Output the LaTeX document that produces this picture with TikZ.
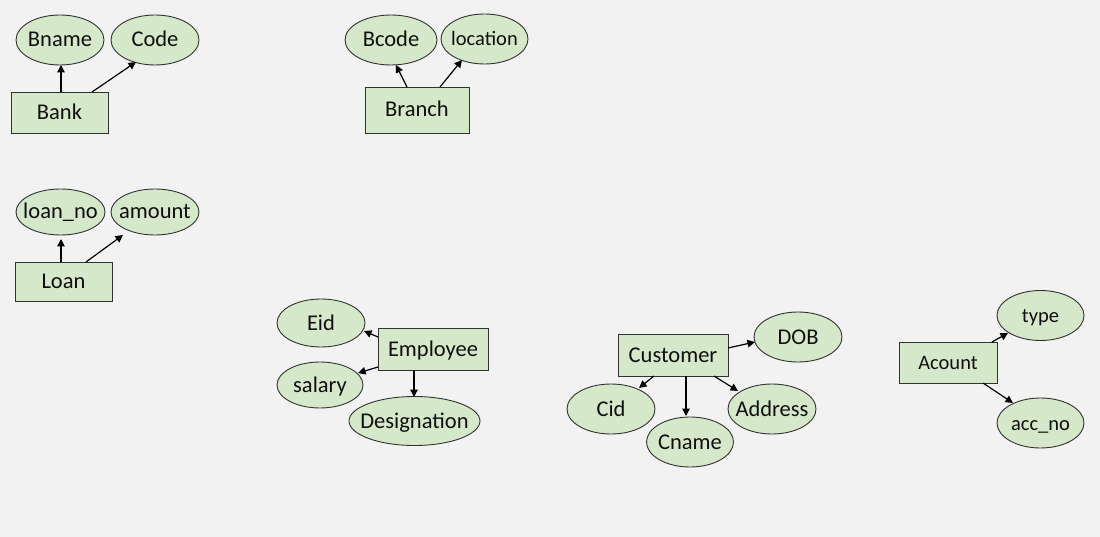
\documentclass[tikz,border=0pt]{standalone}
\usepackage{fontspec}
\setmainfont{Carlito}
\usetikzlibrary{shapes.geometric,arrows.meta}
\definecolor{bgc}{RGB}{242,242,242}
\definecolor{fillc}{RGB}{214,232,202}
\definecolor{linec}{RGB}{50,50,50}
\definecolor{txtc}{RGB}{15,15,15}
\newcommand\zw[1]{\makebox[0pt]{#1}}
\tikzset{
  attr/.style={ellipse, draw=linec, fill=fillc, line width=0.9pt, inner sep=0pt, text=txtc, text height=15pt, text depth=1pt, font=\fontsize{22.5}{24}\selectfont},
  ent/.style={rectangle, draw=linec, fill=fillc, line width=0.9pt, inner sep=0pt, text=txtc, text height=15pt, text depth=1pt, font=\fontsize{22.5}{24}\selectfont},
  small/.style={font=\fontsize{20.5}{22}\selectfont},
  arr/.style={-{Triangle[length=7.5pt,width=7.5pt]}, line width=1.2pt, draw=black}
}
\begin{document}
\begin{tikzpicture}[x=1pt,y=-1pt]
\fill[bgc] (0,0) rectangle (1100,537);
\useasboundingbox (0,0) rectangle (1100,537);
% Bank
\node[attr, minimum width=88pt, minimum height=50pt] (bname) at (60,40) {\zw{Bname}};
\node[attr, minimum width=88pt, minimum height=50pt] (code) at (155,40) {\zw{Code}};
\node[ent, minimum width=97pt, minimum height=41pt] (bank) at (59.5,112.5) {Bank};
\draw[arr] ([shift={(1.5,-20.5)}]bank.center) -- ([shift={(1,25)}]bname.center);
\draw[arr] ([shift={(32.5,-20.5)}]bank.center) -- ([shift={(-19,22)}]code.center);
% Branch
\node[attr, minimum width=92pt, minimum height=50pt] (bcode) at (391,40) {\zw{Bcode}};
\node[attr, small, minimum width=87pt, minimum height=50pt] (location) at (484.5,39) {\zw{location}};
\node[ent, minimum width=104pt, minimum height=46pt] (branch) at (417,110) {Branch};
\draw[arr] ([shift={(-10,-23)}]branch.center) -- ([shift={(5,25)}]bcode.center);
\draw[arr] ([shift={(23,-23)}]branch.center) -- ([shift={(-22.5,21)}]location.center);
% Loan
\node[attr, minimum width=89pt, minimum height=46pt] (loanno) at (60.5,212) {\zw{loan\_no}};
\node[attr, minimum width=88pt, minimum height=46pt] (amount) at (155,212) {\zw{amount}};
\node[ent, minimum width=97pt, minimum height=39pt] (loan) at (63.5,281.5) {Loan};
\draw[arr] ([shift={(-2.5,-19.5)}]loan.center) -- ([shift={(0.5,27)}]loanno.center);
\draw[arr] ([shift={(22.5,-19.5)}]loan.center) -- ([shift={(-32,23)}]amount.center);
% Employee
\node[attr, minimum width=88pt, minimum height=48pt] (eid) at (321,323) {\zw{Eid}};
\node[attr, minimum width=86pt, minimum height=46pt] (salary) at (320,385) {\zw{salary}};
\node[attr, minimum width=131pt, minimum height=49pt] (designation) at (414.5,421) {\zw{Designation}};
\node[ent, minimum width=110pt, minimum height=42pt] (employee) at (433,349) {Employee};
\draw[arr] ([shift={(-55,-12)}]employee.center) -- ([shift={(43,8)}]eid.center);
\draw[arr] ([shift={(-55,18)}]employee.center) -- ([shift={(38,-12)}]salary.center);
\draw[arr] ([shift={(-19,21)}]employee.center) -- ([shift={(-0.5,-24)}]designation.center);
% Customer
\node[ent, minimum width=110pt, minimum height=42pt] (customer) at (673,355) {Customer};
\node[attr, minimum width=88pt, minimum height=50pt] (dob) at (798,337) {\zw{DOB}};
\node[attr, minimum width=88pt, minimum height=50pt] (cid) at (611,409) {\zw{Cid}};
\node[attr, minimum width=87pt, minimum height=50pt] (cname) at (690,442) {\zw{Cname}};
\node[attr, minimum width=88pt, minimum height=50pt] (address) at (772,409) {\zw{Address}};
\draw[arr] ([shift={(55,-7)}]customer.center) -- ([shift={(-43,5)}]dob.center);
\draw[arr] ([shift={(-19,21)}]customer.center) -- ([shift={(28,-21)}]cid.center);
\draw[arr] ([shift={(13,21)}]customer.center) -- ([shift={(-4,-26)}]cname.center);
\draw[arr] ([shift={(41,21)}]customer.center) -- ([shift={(-34,-18)}]address.center);
% Acount
\node[ent, small, minimum width=98pt, minimum height=41pt] (acount) at (948,362.5) {Acount};
\node[attr, small, minimum width=87pt, minimum height=50pt] (type) at (1040.5,315.5) {\zw{type}};
\node[attr, small, minimum width=87pt, minimum height=50pt] (accno) at (1040.5,423) {\zw{acc\_no}};
\draw[arr] ([shift={(44,-20.5)}]acount.center) -- ([shift={(-32.5,17.5)}]type.center);
\draw[arr] ([shift={(35,20.5)}]acount.center) -- ([shift={(-27.5,-20)}]accno.center);
\end{tikzpicture}
\end{document}
